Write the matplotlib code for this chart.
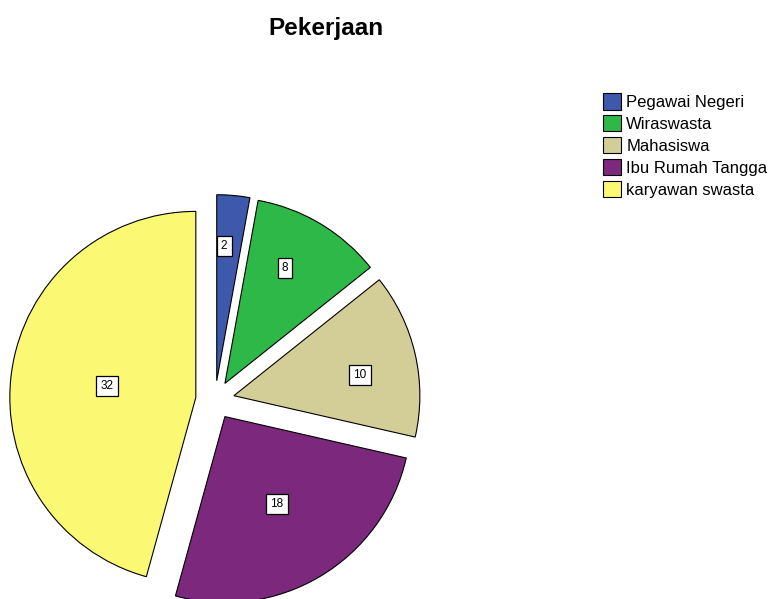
import matplotlib.pyplot as plt
import numpy as np

plt.rcParams['font.family'] = ['Liberation Sans', 'DejaVu Sans']

labels = ['Pegawai Negeri', 'Wiraswasta', 'Mahasiswa', 'Ibu Rumah Tangga', 'karyawan swasta']
counts = [2, 8, 10, 18, 32]
colors = ['#3E58AC', '#2EB848', '#D3CE97', '#7C287D', '#FBF873']
# where each value box sits: fraction of radius, and nudge off the bisector (deg)
label_r = [0.727, 0.70, 0.687, 0.547, 0.481]
label_dang = [2.0, 3.4, -3.5, 0.0, 0.4]

fig = plt.figure(figsize=(7.7, 5.99), dpi=100)
ax = fig.add_axes([-8.2 / 770, -24.2 / 599, 446.4 / 770, 446.4 / 599])

wedges, _ = ax.pie(counts, colors=colors, startangle=90, counterclock=False,
                   explode=[0.104] * len(counts),
                   wedgeprops=dict(edgecolor='black', linewidth=0.8))
ax.set_xlim(-1.2, 1.2)
ax.set_ylim(-1.2, 1.2)
ax.axis('off')

for w, n, r, da in zip(wedges, counts, label_r, label_dang):
    ang = np.deg2rad((w.theta1 + w.theta2) / 2 + da)
    cx, cy = w.center
    ax.text(cx + r * np.cos(ang), cy + r * np.sin(ang), str(n),
            ha='center', va='center', fontsize=8.5,
            bbox=dict(boxstyle='square,pad=0.35', fc='white', ec='black', lw=0.9))

fig.text(326 / 770, 1 - 28 / 599, 'Pekerjaan', ha='center', va='center',
         fontsize=17.5, fontweight='bold')

fig.legend(wedges, labels, loc='upper left', bbox_to_anchor=(603 / 770, 1 - 93 / 599),
           frameon=False, fontsize=12, borderpad=0, borderaxespad=0,
           handlelength=1.1, handleheight=1.15, handletextpad=0.3, labelspacing=0.3)

plt.savefig('out.png', dpi=100)
